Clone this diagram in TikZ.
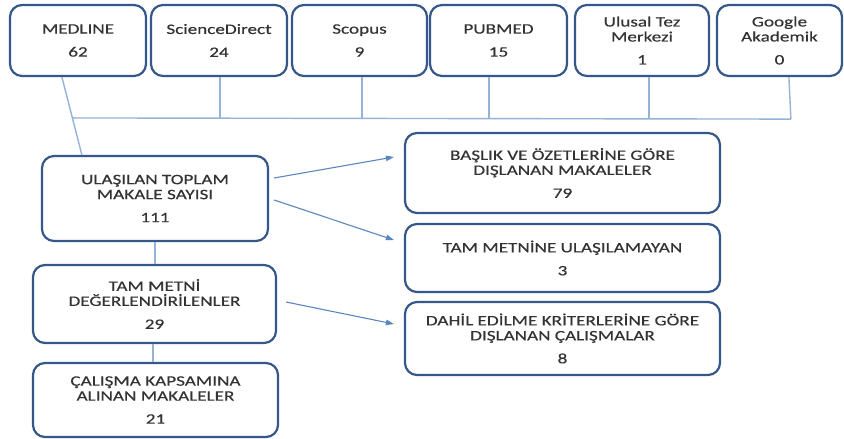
\documentclass[tikz,border=0pt]{standalone}
\usepackage{fontspec}
\setmainfont{Carlito}[FakeStretch=1.33,FakeBold=0.4]
\usetikzlibrary{arrows.meta,calc}
\definecolor{bord}{HTML}{36578A}
\definecolor{conn}{HTML}{95B3D7}
\definecolor{arr}{HTML}{5B87C0}
\definecolor{txt}{HTML}{333333}
\begin{document}
\begin{tikzpicture}[x=1pt,y=-1pt,
  box/.style={draw=bord,line width=2.2pt,rounded corners=12pt,fill=white,align=center,
    text=txt,inner sep=0pt,font=\fontsize{14.4}{15}\selectfont},
  conline/.style={draw=conn,line width=1.4pt},
  arrline/.style={draw=arr,line width=1.1pt,-{Triangle[length=8pt,width=5.5pt]}}]
\useasboundingbox[fill=white] (0,0) rectangle (844,439);
% top boxes
\node[box,minimum width=136pt,minimum height=71pt] (med) at (78,40.5) {MEDLINE\\[8pt]62};
\node[box,minimum width=136pt,minimum height=71pt] (sd) at (219,40.5) {ScienceDirect\\[8pt]24};
\node[box,minimum width=135pt,minimum height=71pt] (sco) at (359.5,40.5) {Scopus\\[8pt]9};
\node[box,minimum width=137pt,minimum height=71pt] (pub) at (498.5,40.5) {PUBMED\\[8pt]15};
\node[box,minimum width=134pt,minimum height=71pt] (utm) at (642,40.5) {Ulusal Tez\\Merkezi\\[8pt]1};
\node[box,minimum width=125pt,minimum height=71pt] (gak) at (779.5,40.5) {Google\\Akademik\\[8pt]0};
% left boxes
\node[box,minimum width=226pt,minimum height=85pt] (ul) at (155,198.5) {ULAŞILAN TOPLAM\\MAKALE SAYISI\\[8pt]111};
\node[box,minimum width=243pt,minimum height=78pt] (tam) at (154.5,304) {TAM METNİ\\DEĞERLENDİRİLENLER\\[8pt]29};
\node[box,minimum width=245pt,minimum height=74pt] (cal) at (155.5,400) {ÇALIŞMA KAPSAMINA\\ALINAN MAKALELER\\[8pt]21};
% right boxes
\node[box,minimum width=315pt,minimum height=80pt] (bas) at (562.5,173) {BAŞLIK VE ÖZETLERİNE GÖRE\\DIŞLANAN MAKALELER\\[8pt]79};
\node[box,minimum width=315pt,minimum height=68pt] (tmn) at (562.5,258) {TAM METNİNE ULAŞILAMAYAN\\[8pt]3};
\node[box,minimum width=315pt,minimum height=73pt] (dah) at (562.5,338.5) {DAHİL EDİLME KRİTERLERİNE GÖRE\\DIŞLANAN ÇALIŞMALAR\\[8pt]8};
% connectors to the bus
\coordinate (mtop) at ([xshift=53pt]med.south west);
\coordinate (ubot) at ([xshift=41pt]ul.north west);
\coordinate (busL) at ($(mtop)!0.525!(ubot)$);
\coordinate (busR) at ([xshift=75pt,yshift=-42pt]gak.south west);
\draw[conline] (mtop) -- (ubot);
\draw[conline] (busL) -- (busR);
\draw[conline] ([xshift=70pt]sd.south west) -- ([xshift=70pt]sd.south west |- busL);
\draw[conline] ([xshift=71pt]sco.south west) -- ([xshift=71pt]sco.south west |- busL);
\draw[conline] ([xshift=60pt]pub.south west) -- ([xshift=60pt]pub.south west |- busL);
\draw[conline] ([xshift=75pt]utm.south west) -- ([xshift=75pt]utm.south west |- busL);
\draw[conline] ([xshift=73pt]gak.south west) -- (busR);
\draw[conline] (ul.south) -- (ul.south |- tam.north);
\draw[conline] ([xshift=-1.5pt]tam.south) -- ([xshift=-1.5pt]tam.south |- cal.north);
% arrows
\draw[arrline] ([xshift=5pt,yshift=20.5pt]ul.east) -- ([xshift=-10pt,yshift=16pt]bas.west);
\draw[arrline] ([xshift=5pt,yshift=-1.5pt]ul.east) -- ([xshift=-10pt,yshift=18pt]tmn.west);
\draw[arrline] ([xshift=9pt,yshift=2pt]tam.east) -- ([xshift=-10pt,yshift=14.5pt]dah.west);
\end{tikzpicture}
\end{document}
